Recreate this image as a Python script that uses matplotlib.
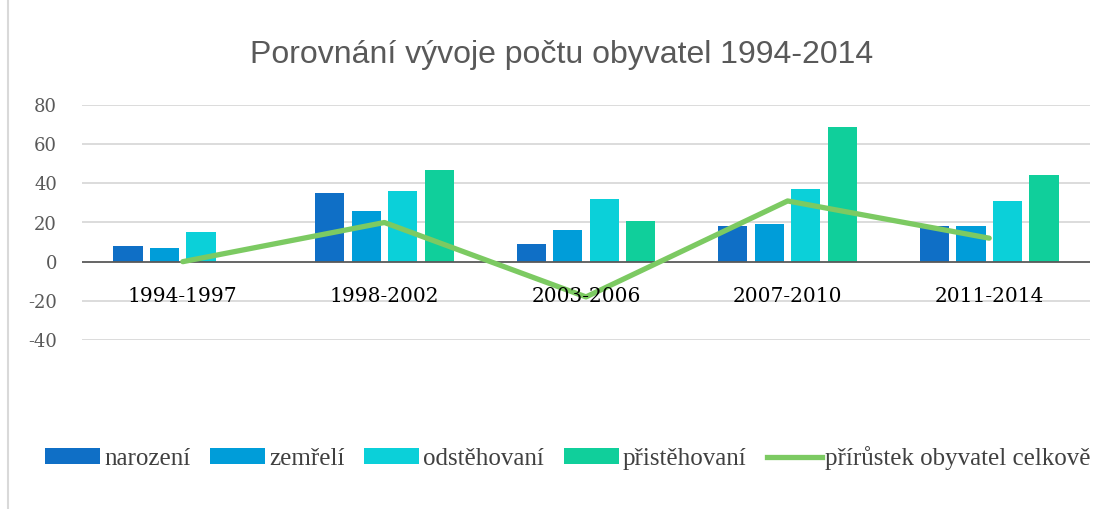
import matplotlib
matplotlib.use("Agg")
import matplotlib.pyplot as plt
import numpy as np
from matplotlib.patches import Patch
from matplotlib.lines import Line2D

categories = ["1994-1997", "1998-2002", "2003-2006", "2007-2010", "2011-2014"]
narozeni = [8, 35, 9, 18, 18]
zemreli = [7, 26, 16, 19, 18]
odstehovani = [15, 36, 32, 37, 31]
pristehovani = [0, 47, 21, 69, 44]
prirustek = [0, 20, -18, 31, 12]
yticks = [-40, -20, 0, 20, 40, 60, 80]

series_names = ["narození", "zemřelí", "odstěhovaní", "přistěhovaní"]
line_name = "přírůstek obyvatel celkově"
colors = ["#0F6FC6", "#009DD9", "#0BD0D9", "#10CF9B"]
line_color = "#7CCA62"

fig = plt.figure(figsize=(11.05, 5.09), dpi=100)
ax = fig.add_axes([82/1105, 169/509, 1008/1105, 235/509])

x = np.arange(len(categories))
bw = 0.145
step = 0.181
data = [narozeni, zemreli, odstehovani, pristehovani]
for i, (vals, c) in enumerate(zip(data, colors)):
    ax.bar(x + (i - 1.5) * step, vals, width=bw, color=c, zorder=2)
ax.plot(x, prirustek, color=line_color, lw=3.8, zorder=3, solid_capstyle="round")

ax.set_xlim(-0.5, len(categories) - 0.5)
ax.set_ylim(-40, 80)
ax.set_yticks(yticks)
ax.set_yticklabels([str(v) for v in yticks], family="DejaVu Serif", fontsize=13, color="#595959")
ax.tick_params(axis="y", length=0, pad=18)
ax.set_xticks([])
for v in yticks:
    if v != 0:
        ax.axhline(v, color="#D9D9D9", lw=1.3, zorder=0)
ax.axhline(0, color="#595959", lw=1.3, zorder=2.5)
for s in ax.spines.values():
    s.set_visible(False)

for xi, lab in zip(x, categories):
    ax.text(xi, -18, lab, ha="center", va="center", family="DejaVu Serif",
            fontsize=14.5, color="#000000", zorder=4)

fig.text(562/1105, 1 - 55/509, "Porovnání vývoje počtu obyvatel 1994-2014",
         ha="center", va="center", family="Liberation Sans", fontsize=23, color="#595959")

handles = [Patch(facecolor=c) for c in colors] + [Line2D([0], [0], color=line_color, lw=3.8)]
labels = series_names + [line_name]
leg = fig.legend(handles, labels, loc="center", bbox_to_anchor=(568/1105, 1 - 458/509),
                 ncol=5, frameon=False, prop={"family": "Liberation Serif", "size": 18},
                 handlelength=2.2, handleheight=0.6, handletextpad=0.15, columnspacing=0.8,
                 labelcolor="#404040")

fig.add_artist(Line2D([8/1105, 8/1105], [0, 1], color="#D9D9D9", lw=1.5, transform=fig.transFigure))

fig.savefig("out.png", dpi=100)
